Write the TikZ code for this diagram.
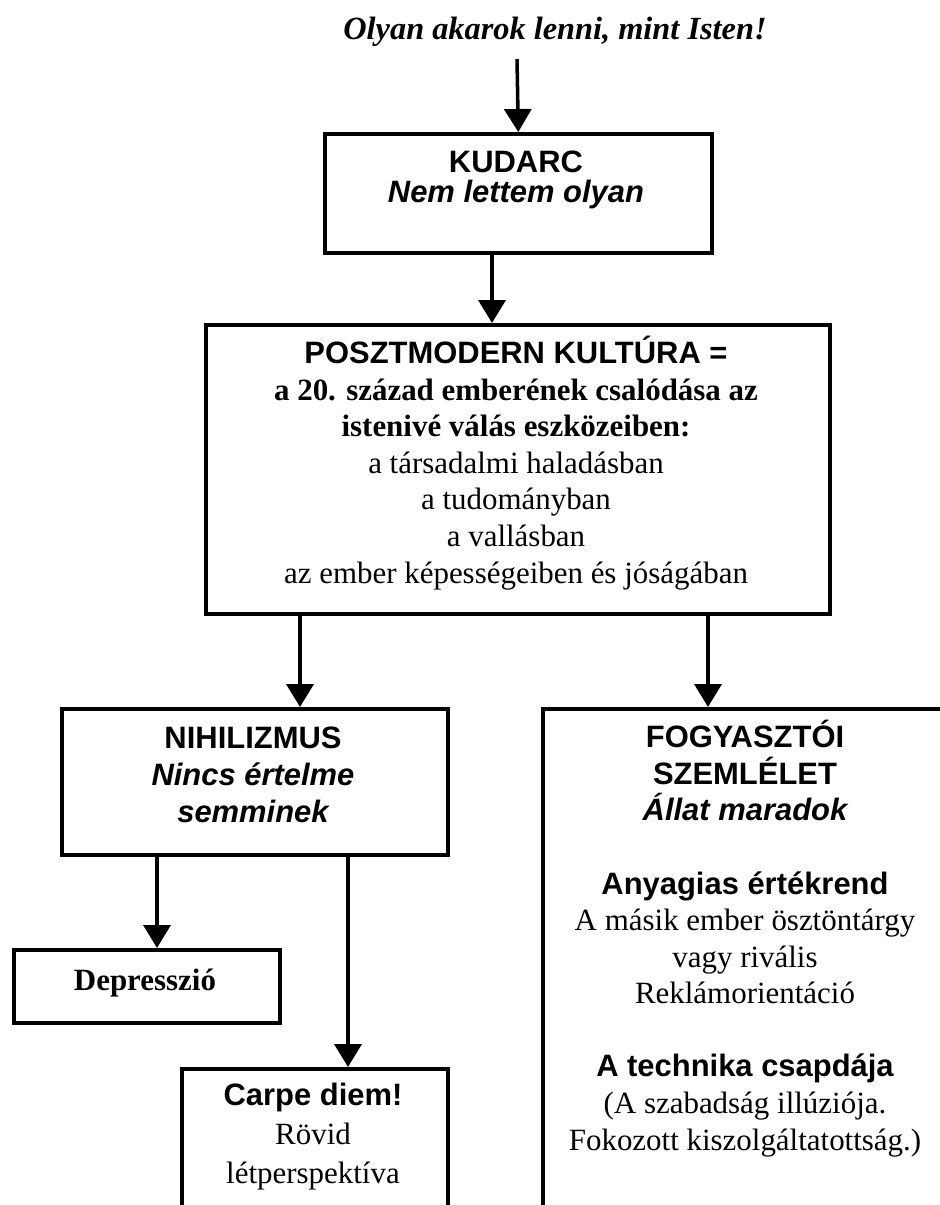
\documentclass[tikz,border=0pt]{standalone}
\usepackage{fontspec}
\setmainfont{Liberation Serif}
\setsansfont{Liberation Sans}
\usetikzlibrary{arrows.meta, positioning}
\newcommand{\boxhead}[1]{{\sffamily\bfseries #1}}
\newcommand{\boxsub}[1]{{\sffamily\bfseries\itshape #1}}

\begin{document}
\begin{tikzpicture}[>={Triangle[length=0.575cm, width=0.675cm]}, x=0.025cm, y=-0.025cm,
  line width=2.5pt, font=\fontsize{22}{26}\selectfont,
  box/.style={draw, anchor=north west, inner sep=0pt},
  txt/.style={align=center, anchor=base, inner sep=0pt}]
\useasboundingbox (0,0) rectangle (940,1205);
\clip (0,0) rectangle (940,1205);
% title and boxes (txt anchors sit on the last line)
\node[anchor=base, font=\fontsize{23}{26}\selectfont\bfseries\itshape] (cim) at (555,39) {Olyan akarok lenni, mint Isten!};
\coordinate (start) at (517,59);
%
\node[box, minimum width=9.675cm, minimum height=2.975cm] (kudarc) at (323,132) {};
\node[txt] (kudarc txt) at (516,202) {\boxhead{KUDARC}\\[-4.7pt]\boxsub{Nem lettem olyan}};
%
\node[box, minimum width=15.6cm, minimum height=7.225cm] (poszt) at (204,323) {};
\node[txt] (poszt txt) at (516,583) {\boxhead{POSZTMODERN KULTÚRA =}\\
  \textbf{a 20. század emberének csalódása az}\\
  \textbf{istenivé válás eszközeiben:}\\
  a társadalmi haladásban\\a tudományban\\a vallásban\\
  az ember képességeiben és jóságában};
%
\node[box, minimum width=9.65cm, minimum height=3.65cm] (nihil) at (60,707) {};
\node[txt] (nihil txt) at (253,822) {\boxhead{NIHILIZMUS}\\\boxsub{Nincs értelme}\\\boxsub{semminek}};
%
\node[box, minimum width=6.65cm, minimum height=1.825cm] (depr) at (12,948) {};
\node[txt] (depr txt) at (145,990) {\textbf{Depresszió}};
%
\node[box, minimum width=6.65cm, minimum height=5cm] (carpe) at (180,1067) {};
\node[txt] (carpe txt) at (313,1183) {\boxhead{Carpe diem!}\\[1.5pt]Rövid\\[1.5pt]létperspektíva};
%
\node[box, minimum width=10.2cm, minimum height=15cm] (fogy) at (541,707) {};
\node[txt] (fogy txt) at (745,1150) {\boxhead{FOGYASZTÓI}\\\boxhead{SZEMLÉLET}\\\boxsub{Állat maradok}\\[26pt]
  \boxhead{Anyagias értékrend}\\A másik ember ösztöntárgy\\vagy rivális\\Reklámorientáció\\[26pt]
  \boxhead{A technika csapdája}\\(A szabadság illúziója.\\Fokozott kiszolgáltatottság.)};
% arrows
\coordinate (a2) at (492,0);
\coordinate (a3) at (300,0);
\coordinate (a4) at (708,0);
\coordinate (a5) at (157,0);
\coordinate (a6) at (348,0);
\draw[->] (start) -- (kudarc.north);
\draw[->] (kudarc.south -| a2) -- (poszt.north -| a2);
\draw[->] (poszt.south -| a3) -- (nihil.north -| a3);
\draw[->] (poszt.south -| a4) -- (fogy.north -| a4);
\draw[->] (nihil.south -| a5) -- (depr.north -| a5);
\draw[->] (nihil.south -| a6) -- (carpe.north -| a6);
\end{tikzpicture}
\end{document}
